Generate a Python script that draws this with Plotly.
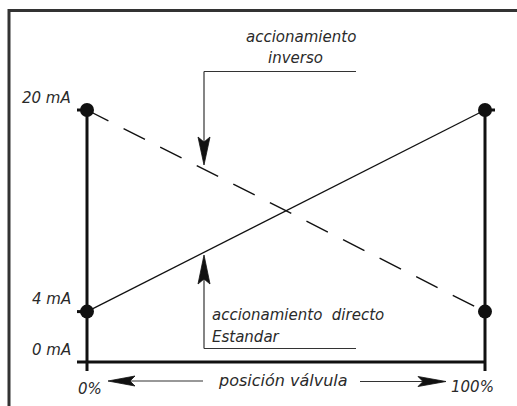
import plotly.graph_objects as go

# ---------------- data ----------------
positions_pct = [0, 100]              # valve position (%)
direct_mA = [4, 20]                   # accionamiento directo (estándar)
inverse_mA = [20, 4]                  # accionamiento inverso
y_tick_vals = [0, 4, 20]
y_tick_text = ["0 mA", "4 mA", "20 mA"]
x_tick_vals = [0, 100]
x_tick_text = ["0%", "100%"]
axis_label = "posición válvula"
inverse_label = ["accionamiento", "inverso"]
direct_label = ["accionamiento  directo", "Estandar"]

# ---------------- geometry helpers (pixel -> data) ----------------
W, H = 517, 406
X0PX, XK = 87.0, 3.98      # px of 0 %, px per %
Y0PX, YK = 362.0, 12.6     # px of 0 mA, px per mA


def xd(px):
    return (px - X0PX) / XK


def yd(py):
    return (Y0PX - py) / YK


INK = "#111111"
TXT = "#2a2a2a"
FONT = "DejaVu Sans"

fig = go.Figure()

# main lines with end points
fig.add_trace(go.Scatter(
    x=positions_pct, y=direct_mA, mode="lines+markers",
    line=dict(color=INK, width=1.3),
    marker=dict(size=14, color=INK), hoverinfo="skip"))
fig.add_trace(go.Scatter(
    x=positions_pct, y=inverse_mA, mode="lines+markers",
    line=dict(color=INK, width=1.4, dash="24px,17px"),
    marker=dict(size=14, color=INK), hoverinfo="skip"))

shapes = []


def seg(x0, y0, x1, y1, w=3, c=INK, layer="below"):
    shapes.append(dict(type="line", xref="x", yref="y", x0=x0, y0=y0,
                       x1=x1, y1=y1, line=dict(color=c, width=w), layer=layer))


# frame (top and left border)
shapes.append(dict(type="line", xref="paper", yref="paper",
                   x0=9 / W, y0=1 - 10.5 / H, x1=1.0, y1=1 - 10.5 / H,
                   line=dict(color="#333333", width=3)))
shapes.append(dict(type="line", xref="paper", yref="paper",
                   x0=9 / W, y0=1 - 9 / H, x1=9 / W, y1=0,
                   line=dict(color="#333333", width=3)))

# axes of the diagram
x_left, x_right = positions_pct[0], positions_pct[-1]
y_bottom = y_tick_vals[0]
y_top = max(y_tick_vals)
seg(xd(77), y_bottom, x_right, y_bottom)              # 0 mA line
seg(x_left, yd(371), x_left, y_top)                    # left vertical
seg(x_right, yd(371), x_right, y_top)                  # right vertical
# small tick stubs
seg(xd(77), y_top, x_left, y_top)
seg(xd(77), direct_mA[0], x_left, direct_mA[0])
seg(x_right, y_top, xd(495), y_top)


def head(tip_px, direction, length, half, notch=5):
    tx, ty = tip_px
    if direction == "down":
        pts = [(tx, ty), (tx - half, ty - length), (tx, ty - length + notch),
               (tx + half, ty - length)]
    elif direction == "up":
        pts = [(tx, ty), (tx - half, ty + length), (tx, ty + length - notch),
               (tx + half, ty + length)]
    elif direction == "left":
        pts = [(tx, ty), (tx + length, ty - half), (tx + length - notch, ty),
               (tx + length, ty + half)]
    else:
        pts = [(tx, ty), (tx - length, ty - half), (tx - length + notch, ty),
               (tx - length, ty + half)]
    path = "M " + " L ".join(f"{xd(a):.4f},{yd(b):.4f}" for a, b in pts) + " Z"
    shapes.append(dict(type="path", xref="x", yref="y", path=path,
                       fillcolor=INK, line=dict(color=INK, width=0.8)))


# callout: inverso (arrow down)
cx = 204
seg(xd(cx), yd(71.5), xd(cx), yd(150), w=1.2, c="#333333", layer="above")
seg(xd(cx), yd(71.5), xd(356), yd(71.5), w=1.2, c="#333333", layer="above")
head((cx, 165), "down", 28, 6)

# callout: directo (arrow up)
seg(xd(cx), yd(348.5), xd(cx), yd(270), w=1.2, c="#333333", layer="above")
seg(xd(cx), yd(348.5), xd(356), yd(348.5), w=1.2, c="#333333", layer="above")
head((cx, 255), "up", 29, 6)

# position axis arrows
seg(xd(130), yd(381), xd(203), yd(381), w=1.2, c="#333333", layer="above")
head((108, 381), "left", 27, 5)
seg(xd(360), yd(381.5), xd(425), yd(381.5), w=1.2, c="#333333", layer="above")
head((446, 381.5), "right", 28, 5)

annotations = []


def txt(text, x, y, xanchor="center", xshift=0, yshift=0, size=15):
    annotations.append(dict(text=f"<i>{text}</i>", x=x, y=y, xref="x", yref="y",
                            xanchor=xanchor, yanchor="middle", showarrow=False,
                            xshift=xshift, yshift=yshift,
                            font=dict(family=FONT, size=size, color=TXT)))


# y labels
for v, t in zip(y_tick_vals, y_tick_text):
    txt(t, x_left, v, xanchor="right", xshift=-14, yshift=12.5)
# x labels
txt(x_tick_text[0], x_tick_vals[0], y_bottom, xshift=3, yshift=-27)
txt(x_tick_text[1], x_tick_vals[1], y_bottom, xshift=-13, yshift=-25)
# axis title
txt(axis_label, xd(283), yd(380), size=16)
# callout labels
txt(inverse_label[0], xd(301), yd(37))
txt(inverse_label[1], xd(295), yd(58))
txt(direct_label[0], xd(210), yd(315), xanchor="left")
txt(direct_label[1], xd(210), yd(337), xanchor="left")

fig.update_layout(
    width=W, height=H,
    margin=dict(l=0, r=0, t=0, b=0),
    paper_bgcolor="white", plot_bgcolor="white",
    showlegend=False,
    xaxis=dict(range=[xd(0), xd(W)], visible=False, fixedrange=True),
    yaxis=dict(range=[yd(H), yd(0)], visible=False, fixedrange=True),
    shapes=shapes, annotations=annotations,
)

fig.write_html(
    "out.html",
    config={"displayModeBar": False},
    post_script="document.body.style.margin='0px';document.body.style.overflow='hidden';",
)
